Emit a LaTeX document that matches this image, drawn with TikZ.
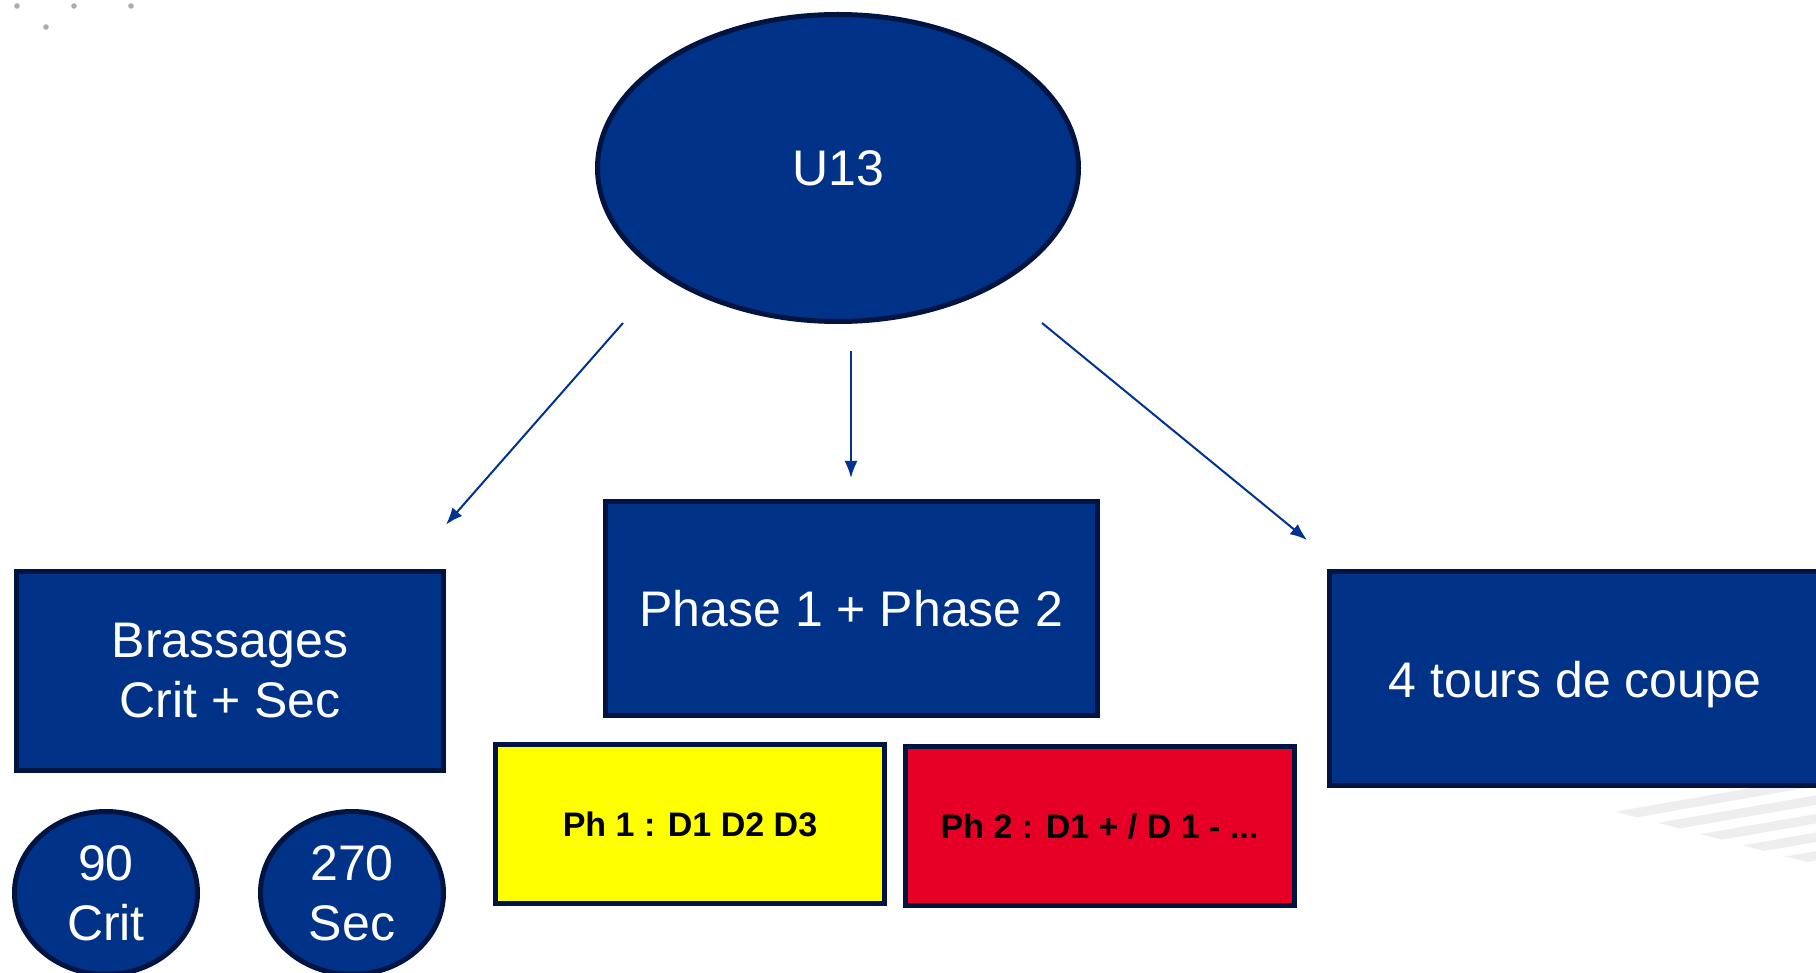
\documentclass[tikz,border=0pt]{standalone}
\usepackage{fontspec}
\setmainfont{Liberation Sans}
\usetikzlibrary{shapes.geometric,arrows.meta}
\definecolor{ublue}{RGB}{0,50,136}
\definecolor{uborder}{RGB}{0,20,65}
\definecolor{uarrow}{RGB}{0,51,141}
\definecolor{ph1yellow}{RGB}{255,255,0}
\definecolor{ph2red}{RGB}{230,0,38}
\begin{document}
\begin{tikzpicture}[x=1pt, y=-1pt,
        bluebox/.style={draw=uborder, line width=5pt, fill=ublue, text=white, align=center,
            font=\fontsize{50}{60}\selectfont, inner sep=0pt},
        blueoval/.style={bluebox, shape=ellipse},
        phbox/.style={draw=uborder, line width=5pt, inner sep=0pt, text=black,
            font=\fontsize{34}{40}\selectfont\bfseries, minimum width=389, minimum height=159},
        arrowline/.style={draw=uarrow, line width=2pt, -{Latex[length=17pt,width=13pt]}}]
        \useasboundingbox (0,0) rectangle (1816,973);

        % Background marks
        \foreach \x/\y in {17/6, 74/6, 131/6, 46/27} \fill[gray!65] (\x,\y) circle (2.8);
        \foreach \i in {0,...,4}
            \fill[gray!13] (1615+42.5*\i, 811.7+11.2*\i) -- ++(300,-52.2) -- ++(0,9.4)
                -- (1637+42.5*\i, 817.3+11.2*\i) -- cycle;

        % Top
        \node[blueoval, minimum width=481, minimum height=307] (u13) at (838,168) {U13};

        % Second row
        \node[bluebox, minimum width=427, minimum height=199] (brassages) at (230,670.5) {Brassages\\Crit + Sec};
        \node[bluebox, minimum width=492, minimum height=214] (phases) at (851.5,608.5) {Phase 1 + Phase 2};
        \node[bluebox, minimum width=492, minimum height=214, text height=49pt, text depth=10pt] (coupe) at (1575,678) {4 tours de coupe};

        % Phases
        \node[phbox, fill=ph1yellow] (ph1) at (690,824) {Ph 1 : D1 D2 D3};
        \node[phbox, fill=ph2red] (ph2) at (1099.5,826.3) {Ph 2 : D1 + / D 1 - ...};

        % Brassages
        \node[blueoval, minimum width=183, minimum height=163] (crit) at (106,893) {90\\Crit};
        \node[blueoval, minimum width=183, minimum height=163] (sec) at (352,893) {270\\Sec};

        % Arrows
        \coordinate (u13l) at (623,323);
        \coordinate (u13m) at (851,351);
        \coordinate (u13r) at (1042,323);
        \coordinate (brasn) at (446,524.6);
        \coordinate (phasn) at (851,478);
        \coordinate (coupn) at (1307,540);
        \draw[arrowline] (u13l) -- (brasn);
        \draw[arrowline] (u13m) -- (phasn);
        \draw[arrowline] (u13r) -- (coupn);

    \end{tikzpicture}
\end{document}
